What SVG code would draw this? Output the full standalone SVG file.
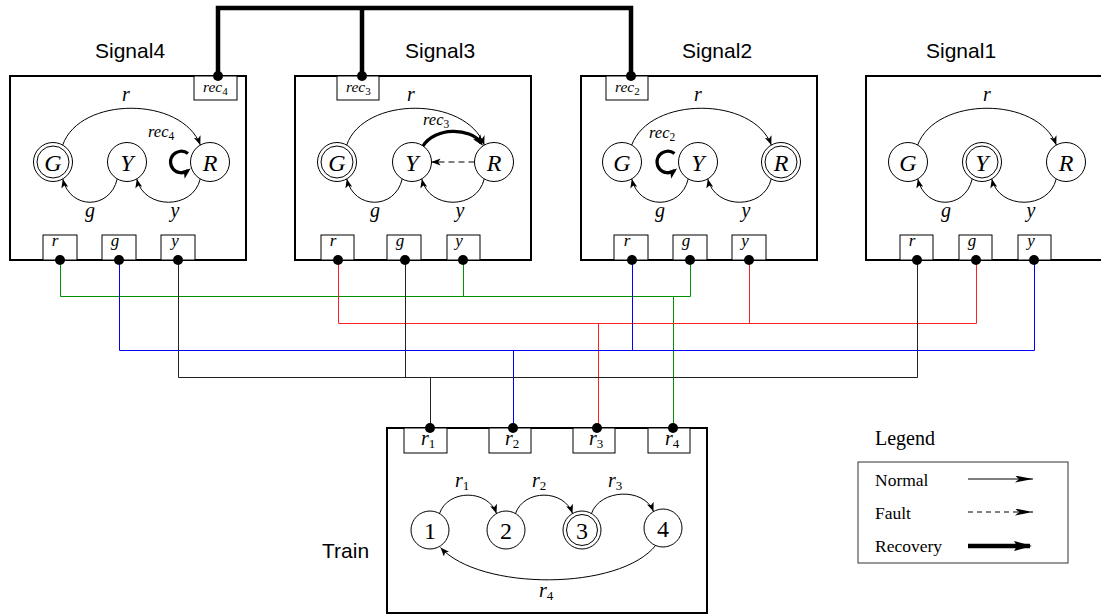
<svg xmlns="http://www.w3.org/2000/svg" width="1101" height="614" viewBox="0 0 1101 614">
<style>
.box{fill:none;stroke:#000;stroke-width:2}
.port{fill:#fff;stroke:#000;stroke-width:1}
.st{fill:#fff;stroke:#000;stroke-width:1}
.e{fill:none;stroke:#000;stroke-width:1;marker-end:url(#arr)}
.rec{fill:none;stroke:#000;stroke-width:3.2;marker-end:url(#arrT)}
.m{font-family:"Liberation Serif",serif;font-style:italic;fill:#000}
.m tspan{font-style:normal}
.n{font-family:"Liberation Serif",serif;fill:#000}
.t{font-family:"Liberation Sans",Arial,sans-serif;font-size:21px;fill:#000}
.w{fill:none;stroke-width:1}
.dot{fill:#000}
</style>
<defs>
<marker id="arr" viewBox="0 0 10 8" refX="10" refY="4" markerWidth="9" markerHeight="7.2" markerUnits="userSpaceOnUse" orient="auto"><path d="M0,0 L10,4 L0,8 L2.5,4 z"/></marker>
<marker id="arrT" viewBox="0 0 10 8" refX="7" refY="4" markerWidth="11" markerHeight="9" markerUnits="userSpaceOnUse" orient="auto"><path d="M0,0 L10,4 L0,8 L2.5,4 z"/></marker>
<marker id="stl" viewBox="0 0 18 7" refX="18" refY="3.5" markerWidth="18" markerHeight="7" markerUnits="userSpaceOnUse" orient="auto"><path d="M0,0 L18,3.5 L0,7 L4,3.5 z"/></marker>
<marker id="stlT" viewBox="0 0 18 10" refX="16" refY="5" markerWidth="18" markerHeight="10" markerUnits="userSpaceOnUse" orient="auto"><path d="M0,0 L18,5 L0,10 L3,5 z"/></marker>
</defs>
<rect width="1101" height="614" fill="#fff"/>

<g id="signal4" transform="translate(10,0)">
<text class="t" x="85" y="58">Signal4</text>
<rect class="box" x="0" y="76" width="236" height="184"/>
<rect class="port" x="184" y="76" width="43" height="24"/>
<text class="m" x="193" y="92" font-size="15.5">rec<tspan font-size="11" dy="3">4</tspan></text>
<circle class="st" cx="43" cy="162" r="19.5"/><circle class="st" cx="43" cy="162" r="16"/>
<circle class="st" cx="117" cy="162" r="19.5"/>
<circle class="st" cx="200" cy="162" r="19.5"/>
<text class="m" x="43" y="170.5" font-size="24" text-anchor="middle">G</text>
<text class="m" x="117" y="170.5" font-size="24" text-anchor="middle">Y</text>
<text class="m" x="200" y="170.5" font-size="24" text-anchor="middle">R</text>
<path class="e" d="M52.7,145 C70,96 172,96 190.3,145"/>
<text class="m" x="116" y="101" font-size="20" text-anchor="middle">r</text>
<path class="e" d="M107.2,179 C100,210 60,210 52.8,179"/>
<text class="m" x="80" y="217" font-size="20" text-anchor="middle">g</text>
<path class="e" d="M190.2,179 C183,210 134,210 126.8,179"/>
<text class="m" x="165" y="217" font-size="20" text-anchor="middle">y</text>
<path class="rec" d="M178,153.5 A10.8,10.8 0 1 0 178,170.5"/>
<text class="m" x="138" y="137" font-size="16.5">rec<tspan font-size="11.5" dy="3">4</tspan></text>
<rect class="port" x="33" y="235" width="34" height="25"/>
<rect class="port" x="92" y="235" width="34" height="25"/>
<rect class="port" x="151" y="235" width="34" height="25"/>
<text class="m" x="45" y="246" font-size="17" text-anchor="middle">r</text>
<text class="m" x="105" y="246" font-size="17" text-anchor="middle">g</text>
<text class="m" x="165" y="246" font-size="17" text-anchor="middle">y</text>
</g>

<g id="signal3" transform="translate(295,0)">
<text class="t" x="110" y="58">Signal3</text>
<rect class="box" x="0" y="76" width="236" height="184"/>
<rect class="port" x="42" y="76" width="42" height="24"/>
<text class="m" x="51" y="92" font-size="15.5">rec<tspan font-size="11" dy="3">3</tspan></text>
<circle class="st" cx="42" cy="162" r="19.5"/><circle class="st" cx="42" cy="162" r="16"/>
<circle class="st" cx="117" cy="162" r="19.5"/>
<circle class="st" cx="199" cy="162" r="19.5"/>
<text class="m" x="42" y="170.5" font-size="24" text-anchor="middle">G</text>
<text class="m" x="117" y="170.5" font-size="24" text-anchor="middle">Y</text>
<text class="m" x="199" y="170.5" font-size="24" text-anchor="middle">R</text>
<path class="e" d="M51.7,145 C69,96 171,96 189.3,145"/>
<text class="m" x="116" y="101" font-size="20" text-anchor="middle">r</text>
<path class="e" d="M107.2,179 C100,210 59,210 51.8,179"/>
<text class="m" x="80" y="217" font-size="20" text-anchor="middle">g</text>
<path class="e" d="M189.2,179 C182,210 134,210 126.8,179"/>
<text class="m" x="165" y="217" font-size="20" text-anchor="middle">y</text>
<path class="rec" d="M128,146 C140,127 175,127 186,143"/>
<text class="m" x="128" y="125" font-size="16.5">rec<tspan font-size="11.5" dy="3">3</tspan></text>
<path class="e" d="M179.5,162 H136.5" stroke-dasharray="6,4"/>
<rect class="port" x="26" y="235" width="33" height="25"/>
<rect class="port" x="92" y="235" width="34" height="25"/>
<rect class="port" x="152" y="235" width="33" height="25"/>
<text class="m" x="38" y="246" font-size="17" text-anchor="middle">r</text>
<text class="m" x="105" y="246" font-size="17" text-anchor="middle">g</text>
<text class="m" x="164" y="246" font-size="17" text-anchor="middle">y</text>
</g>

<g id="signal2" transform="translate(581,0)">
<text class="t" x="101" y="58">Signal2</text>
<rect class="box" x="0" y="76" width="236" height="184"/>
<rect class="port" x="25" y="76" width="42" height="24"/>
<text class="m" x="34" y="92" font-size="15.5">rec<tspan font-size="11" dy="3">2</tspan></text>
<circle class="st" cx="41" cy="162" r="19.5"/>
<circle class="st" cx="117" cy="162" r="19.5"/>
<circle class="st" cx="200" cy="162" r="19.5"/><circle class="st" cx="200" cy="162" r="16"/>
<text class="m" x="41" y="170.5" font-size="24" text-anchor="middle">G</text>
<text class="m" x="117" y="170.5" font-size="24" text-anchor="middle">Y</text>
<text class="m" x="200" y="170.5" font-size="24" text-anchor="middle">R</text>
<path class="e" d="M50.7,145 C69,96 172,96 190.3,145"/>
<text class="m" x="117" y="101" font-size="20" text-anchor="middle">r</text>
<path class="e" d="M107.2,179 C100,210 58,210 50.8,179"/>
<text class="m" x="79" y="217" font-size="20" text-anchor="middle">g</text>
<path class="e" d="M190.2,179 C183,210 134,210 126.8,179"/>
<text class="m" x="165" y="217" font-size="20" text-anchor="middle">y</text>
<path class="rec" d="M93.5,153.5 A10.8,10.8 0 1 0 93.5,170.5"/>
<text class="m" x="68" y="138" font-size="16.5">rec<tspan font-size="11.5" dy="3">2</tspan></text>
<rect class="port" x="33" y="235" width="34" height="25"/>
<rect class="port" x="92" y="235" width="34" height="25"/>
<rect class="port" x="151" y="235" width="34" height="25"/>
<text class="m" x="46" y="246" font-size="17" text-anchor="middle">r</text>
<text class="m" x="105" y="246" font-size="17" text-anchor="middle">g</text>
<text class="m" x="164" y="246" font-size="17" text-anchor="middle">y</text>
</g>

<g id="signal1" transform="translate(866,0)">
<text class="t" x="60" y="58">Signal1</text>
<rect class="box" x="0" y="76" width="236" height="184"/>
<circle class="st" cx="42" cy="162" r="19.5"/>
<circle class="st" cx="116" cy="162" r="19.5"/><circle class="st" cx="116" cy="162" r="16"/>
<circle class="st" cx="200" cy="162" r="19.5"/>
<text class="m" x="42" y="170.5" font-size="24" text-anchor="middle">G</text>
<text class="m" x="116" y="170.5" font-size="24" text-anchor="middle">Y</text>
<text class="m" x="200" y="170.5" font-size="24" text-anchor="middle">R</text>
<path class="e" d="M51.7,145 C70,96 172,96 190.3,145"/>
<text class="m" x="121" y="101" font-size="20" text-anchor="middle">r</text>
<path class="e" d="M106.2,179 C99,210 59,210 51.8,179"/>
<text class="m" x="80" y="217" font-size="20" text-anchor="middle">g</text>
<path class="e" d="M190.2,179 C183,210 133,210 125.8,179"/>
<text class="m" x="165" y="217" font-size="20" text-anchor="middle">y</text>
<rect class="port" x="34" y="235" width="33" height="25"/>
<rect class="port" x="93" y="235" width="33" height="25"/>
<rect class="port" x="152" y="235" width="33" height="25"/>
<text class="m" x="46" y="246" font-size="17" text-anchor="middle">r</text>
<text class="m" x="106" y="246" font-size="17" text-anchor="middle">g</text>
<text class="m" x="165" y="246" font-size="17" text-anchor="middle">y</text>
</g>

<g id="train">
<text class="t" x="322" y="558">Train</text>
<rect class="box" x="387" y="428" width="320" height="185"/>
<rect class="port" x="404" y="428" width="43" height="25"/>
<rect class="port" x="489" y="428" width="42" height="25"/>
<rect class="port" x="573" y="428" width="42" height="25"/>
<rect class="port" x="648" y="428" width="42" height="25"/>
<text class="m" x="421" y="445" font-size="20">r<tspan font-size="13" dy="3">1</tspan></text>
<text class="m" x="505" y="445" font-size="20">r<tspan font-size="13" dy="3">2</tspan></text>
<text class="m" x="589" y="445" font-size="20">r<tspan font-size="13" dy="3">3</tspan></text>
<text class="m" x="665" y="445" font-size="20">r<tspan font-size="13" dy="3">4</tspan></text>
<circle class="st" cx="430" cy="530" r="19"/>
<circle class="st" cx="506" cy="530" r="19"/>
<circle class="st" cx="582" cy="530" r="19"/><circle class="st" cx="582" cy="530" r="15.5"/>
<circle class="st" cx="663" cy="528" r="19"/>
<text class="n" x="430" y="538.5" font-size="24" text-anchor="middle">1</text>
<text class="n" x="506" y="538.5" font-size="24" text-anchor="middle">2</text>
<text class="n" x="582" y="538.5" font-size="24" text-anchor="middle">3</text>
<text class="n" x="663" y="536.5" font-size="24" text-anchor="middle">4</text>
<path class="e" d="M439.5,513.5 C448,489 488,489 496.5,513.5"/>
<path class="e" d="M515.5,513.5 C524,489 564,489 572.5,513.5"/>
<path class="e" d="M591.5,513.5 C600,489 644,487 653.5,511.5"/>
<path class="e" d="M656,545 C620,591 480,591 440.5,547.5"/>
<text class="m" x="455" y="487" font-size="20">r<tspan font-size="13" dy="3">1</tspan></text>
<text class="m" x="532" y="487" font-size="20">r<tspan font-size="13" dy="3">2</tspan></text>
<text class="m" x="608" y="487" font-size="20">r<tspan font-size="13" dy="3">3</tspan></text>
<text class="m" x="539" y="597" font-size="20">r<tspan font-size="13" dy="3">4</tspan></text>
</g>

<g id="legend">
<text class="n" x="875" y="445" font-size="20">Legend</text>
<rect x="858" y="462" width="210" height="101" fill="none" stroke="#333" stroke-width="1"/>
<text class="n" x="875" y="486" font-size="17.5">Normal</text>
<text class="n" x="875" y="519" font-size="17.5">Fault</text>
<text class="n" x="875" y="552" font-size="17.5">Recovery</text>
<line x1="968" y1="479" x2="1033" y2="479" stroke="#000" stroke-width="1" marker-end="url(#stl)"/>
<line x1="968" y1="512" x2="1033" y2="512" stroke="#000" stroke-width="1" stroke-dasharray="5,4" marker-end="url(#stl)"/>
<line x1="968" y1="546" x2="1030" y2="546" stroke="#000" stroke-width="4.5" marker-end="url(#stlT)"/>
</g>

<g id="connectors">
<path d="M218,76 V8 H631 V76 M362,8 V76" fill="none" stroke="#000" stroke-width="4.5"/>
<path class="w" stroke="#009000" d="M60.5,260 V296.5 H690.5 V260 M463.5,260 V296.5 M673.5,296.5 V428"/>
<path class="w" stroke="#ff2020" d="M338.5,260 V323.5 H976.5 V260 M749.5,260 V323.5 M598.5,323.5 V428"/>
<path class="w" stroke="#0000ff" d="M119.5,260 V350.5 H1034.5 V260 M632.5,260 V350.5 M513.5,350.5 V428"/>
<path class="w" stroke="#222" d="M178.5,260 V377.5 H917.5 V260 M405.5,260 V377.5 M430.5,377.5 V428"/>
<g class="dot">
<circle cx="218" cy="76" r="5"/><circle cx="362" cy="76" r="5"/><circle cx="631" cy="76" r="5"/>
<circle cx="60" cy="260" r="5"/><circle cx="119" cy="260" r="5"/><circle cx="178" cy="260" r="5"/>
<circle cx="338" cy="260" r="5"/><circle cx="405" cy="260" r="5"/><circle cx="463" cy="260" r="5"/>
<circle cx="632" cy="260" r="5"/><circle cx="690" cy="260" r="5"/><circle cx="749" cy="260" r="5"/>
<circle cx="917" cy="260" r="5"/><circle cx="976" cy="260" r="5"/><circle cx="1034" cy="260" r="5"/>
<circle cx="430" cy="428" r="5"/><circle cx="513" cy="428" r="5"/><circle cx="597" cy="428" r="5"/><circle cx="673" cy="428" r="5"/>
</g>
</g>
</svg>
